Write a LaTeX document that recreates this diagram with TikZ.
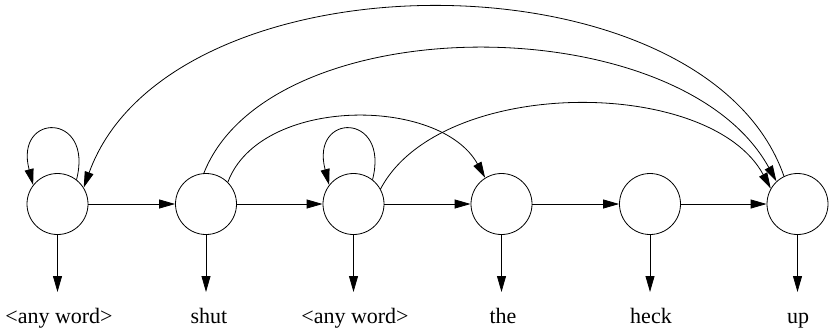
\documentclass[tikz,border=0pt]{standalone}
\usepackage{fontspec}
\setmainfont{Liberation Serif}
\usetikzlibrary{arrows.meta}
\begin{document}
\begin{tikzpicture}[x=1pt,y=-1pt,line width=0.8pt,
  >={Triangle[length=16pt,width=9pt]},
  state/.style={draw,circle,minimum size=61pt,inner sep=0pt},
  word/.style={anchor=north,inner xsep=0pt,inner ysep=16pt,text height=15pt,text depth=4pt,font=\fontsize{22}{26}\selectfont}]
\useasboundingbox (0,0) rectangle (832,333);
\node[state] (n1) at (57.5,204) {};
\node[state] (n2) at (206,204) {};
\node[state] (n3) at (353.5,204) {};
\node[state] (n4) at (501.5,204) {};
\node[state] (n5) at (650,204) {};
\node[state] (n6) at (797.5,204) {};
\node[word] (l1) at (59,292) {\textless any word\textgreater};
\node[word] (l2) at (209,292) {shut};
\node[word] (l3) at (355,292) {\textless any word\textgreater};
\node[word] (l4) at (503,292) {the};
\node[word] (l5) at (651,292) {heck};
\node[word] (l6) at (798,292) {up};
\foreach \i in {1,...,6} {\draw[->] (n\i) -- (n\i |- l\i.north);}
\draw[->] (n1) -- (n2);
\draw[->] (n2) -- (n3);
\draw[->] (n3) -- (n4);
\draw[->] (n4) -- (n5);
\draw[->] (n5) -- (n6);
% self loops
\draw[->] (n1.52) .. controls (94,112) and (14,112) .. (n1.142);
\draw[->] (n3.52) .. controls (390,112) and (310,112) .. (n3.142);
% long arcs
\draw[->] (n6.116) .. controls (705,-51) and (170,-51) .. (n1.32);
\draw[->] (n2.94) .. controls (270,6) and (680,6) .. (n6.133);
\draw[->] (n2.45) .. controls (260,96) and (440,96) .. (n4.122);
\draw[->] (n3.29) .. controls (440,76) and (710,76) .. (n6.150);
\end{tikzpicture}
\end{document}
